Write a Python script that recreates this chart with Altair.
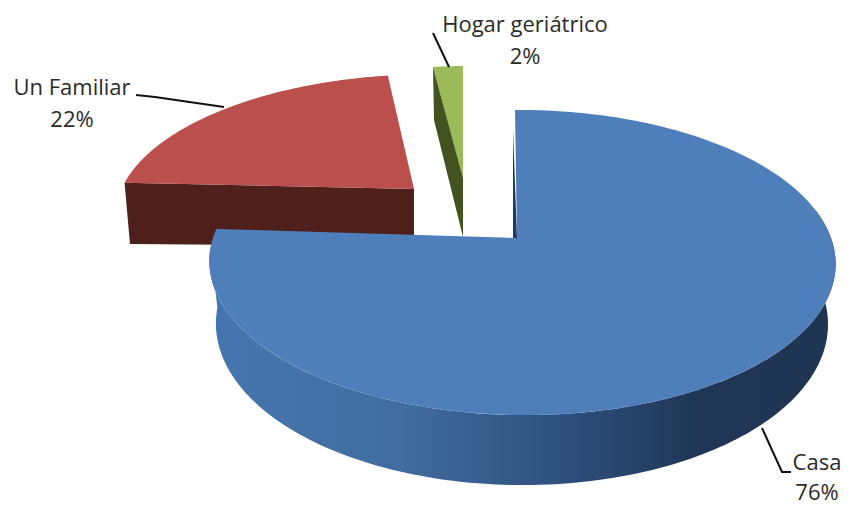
import math
import altair as alt
import pandas as pd

categories = ["Casa", "Un Familiar", "Hogar geriátrico"]
shares = [76, 22, 2]
share_labels = ["76%", "22%", "2%"]

BLUE, BLUE_DARK, BLUE_SIDE = "#4f7fbb", "#1d3a63", ["#4676b1", "#416d9f", "#2f5280", "#1f3655", "#1f3553"]
RED, RED_DARK = "#bb4f4b", "#4f1f1c"
GREEN, GREEN_DARK = "#9bbb59", "#435320"
TEXT = "#2b2b2b"

K, M = 0.1607, -0.016
N = 160


def pt(t, x0, y0, b, a, s=0, e=0):
    u, v = math.sin(t), math.cos(t)
    w = 1 + K * v + M * u
    return (x0 + (b * u + s * v) / w, y0 - (a * v + e * u) / w)


def arc(t0, t1, *p):
    return [pt(t0 + (t1 - t0) * i / N, *p) for i in range(N + 1)]


def rad(pct):
    return 2 * math.pi * pct / 100


blue_end = rad(shares[0])
red_end = rad(shares[0] + shares[1])

BT = (517, 238, 309, 148.6, -2.3, 0)
BB = (517, 298, 302, 157, 0, 0)
RT = (414, 189, 298, 133, 7, 2)
GT = (463, 178, 278, 130, 0, 0)

polys = []
# red side and top
r_corner = pt(blue_end, *RT)
polys.append((RED_DARK, [r_corner, (RT[0], RT[1]), (414, 246), (130, 244)]))
polys.append((RED, [(RT[0], RT[1])] + arc(blue_end, red_end, *RT)))
# green inner face and top
g_corner = pt(red_end, *GT)
polys.append((GREEN, [(GT[0], GT[1])] + arc(red_end, 2 * math.pi, *GT)))
polys.append((GREEN_DARK, [g_corner, (GT[0], GT[1]), (463, 237), (434, 120)]))
# blue side gradient
side = arc(rad(22), rad(74), *BT) + arc(rad(74), rad(22), *BB)
grad = alt.Gradient(
    gradient="linear", x1=0, x2=1, y1=0, y2=0,
    stops=[alt.GradientStop(offset=o, color=c) for o, c in zip([0, 0.3, 0.55, 0.78, 1], BLUE_SIDE)],
)
polys.append((grad, side))
polys.append((BLUE_DARK, [(513, 130), (517, 238), (513, 238)]))
polys.append((BLUE, [(BT[0], BT[1])] + arc(0, blue_end, *BT)))

X = alt.Scale(domain=[8, 843])
Y = alt.Scale(domain=[506, 8])


def enc(mark, pts):
    df = pd.DataFrame({"x": [p[0] for p in pts], "y": [p[1] for p in pts], "i": range(len(pts))})
    return alt.Chart(df).mark_line(**mark).encode(
        x=alt.X("x:Q", scale=X, axis=None),
        y=alt.Y("y:Q", scale=Y, axis=None),
        order=alt.Order("i:Q"),
    )


layers = []
for fill, pts in polys:
    layers.append(enc(dict(fill=fill, stroke="transparent", strokeWidth=0, interpolate="linear-closed"), pts))

leaders = [
    [(136, 95), (155, 97), (224, 107)],
    [(433, 33), (449, 67)],
    [(762, 428), (782, 472), (791, 472)],
]
for l in leaders:
    layers.append(enc(dict(stroke="#111111", strokeWidth=2), l))

labels = pd.DataFrame({
    "t": ["Hogar geriátrico", share_labels[2], "Un Familiar", share_labels[1], categories[0], share_labels[0]],
    "x": [525, 525, 72, 72, 817, 817],
    "y": [25, 57, 88, 120, 463, 493],
})
layers.append(
    alt.Chart(labels).mark_text(font="Open Sans", fontSize=22, color=TEXT, align="center", baseline="middle").encode(
        x=alt.X("x:Q", scale=X, axis=None),
        y=alt.Y("y:Q", scale=Y, axis=None),
        text="t:N",
    )
)

chart = alt.layer(*layers).properties(
    width=835, height=498, padding=0, autosize=alt.AutoSizeParams(type="none"),
    background="white",
).configure_view(stroke=None)

chart.save("out.html", embed_options={"renderer": "svg", "actions": False})
